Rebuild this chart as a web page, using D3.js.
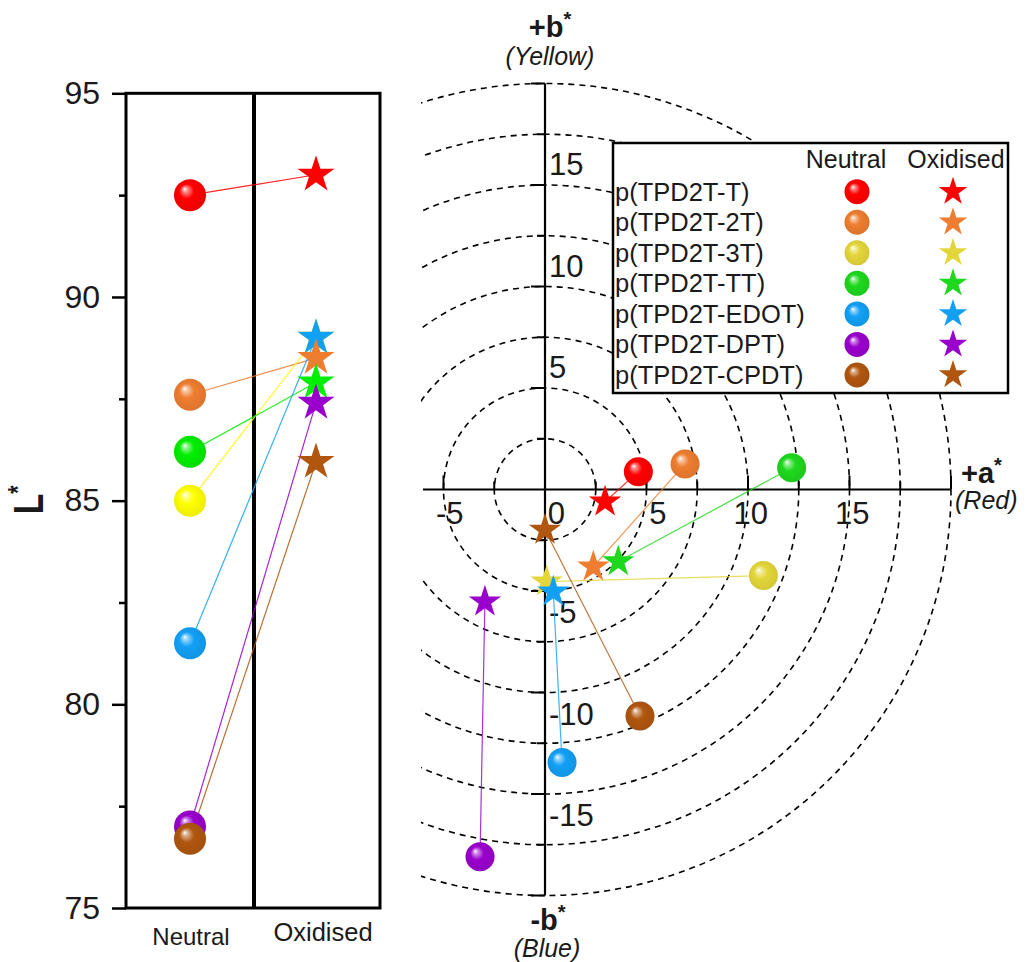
<!DOCTYPE html>
<html>
<head>
<meta charset="utf-8">
<script src="https://cdn.jsdelivr.net/npm/d3@7"></script>
<style>
  body { margin: 0; background: #fff; }
  svg { display: block; font-family: "Liberation Sans", Arial, sans-serif; }
</style>
</head>
<body>
<svg id="chart" width="1026" height="962"></svg>
<script>
// ---------------- data ----------------
const seriesNames = ["p(TPD2T-T)", "p(TPD2T-2T)", "p(TPD2T-3T)", "p(TPD2T-TT)", "p(TPD2T-EDOT)", "p(TPD2T-DPT)", "p(TPD2T-CPDT)"];
const states = ["Neutral", "Oxidised"];

// L* values (left panel)
const neutralL  = [92.5, 87.6, 85.0, 86.2, 81.5, 77.0, 76.7];
const oxidisedL = [93.0, 88.5, 89.0, 87.9, 89.0, 87.4, 85.95];

// a*, b* values (polar panel)
const neutralA  = [4.6, 6.9, 10.76, 12.15, 0.84, -3.2, 4.68];
const neutralB  = [0.88, 1.26, -4.24, 1.07, -13.45, -18.09, -11.16];
const oxidisedA = [2.96, 2.38, 0.08, 3.61, 0.41, -2.96, 0.0];
const oxidisedB = [-0.6, -3.8, -4.54, -3.55, -5.04, -5.53, -2.0];

// ticks
const lTicks = [75, 80, 85, 90, 95];
const lMinorTicks = [77.5, 82.5, 87.5, 92.5];
const aTicks = [-5, 0, 5, 10, 15];
const bTicks = [-15, -10, -5, 5, 10, 15];
const ringRadii = [2.5, 5, 7.5, 10, 12.5, 15, 17.5, 20];

// colours
const leftColors  = ["#FF0000", "#EE7D30", "#FFFF00", "#00EE00", "#12A0F5", "#9900CC", "#B0560F"];
const polarColors = ["#FF0000", "#EE7D30", "#E3D63A", "#1ED81E", "#12A0F5", "#9900CC", "#B0560F"];

// ---------------- setup ----------------
const svg = d3.select("#chart");
svg.append("rect").attr("width", 1026).attr("height", 962).attr("fill", "#fff");
const defs = svg.append("defs");
const textColor = "#1a1a1a";

function makeGrad(id, color) {
  const g = defs.append("radialGradient").attr("id", id)
    .attr("cx", "50%").attr("cy", "50%").attr("r", "55%")
    .attr("fx", "33%").attr("fy", "30%");
  g.append("stop").attr("offset", "0").attr("stop-color", "#ffffff");
  g.append("stop").attr("offset", "0.14").attr("stop-color", d3.interpolateRgb(color, "#fff")(0.55));
  g.append("stop").attr("offset", "0.42").attr("stop-color", color);
  g.append("stop").attr("offset", "1").attr("stop-color", d3.interpolateRgb(color, "#000")(0.08));
}
leftColors.forEach((c, i) => makeGrad("gl" + i, c));
polarColors.forEach((c, i) => makeGrad("gp" + i, c));

const KA = 0.8908130915292852;
const starPath = R => d3.symbol(d3.symbolStar, R * R / KA)();

// ---------------- left panel ----------------
const yL = d3.scaleLinear().domain([75, 95]).range([908, 93.3]);
const xL = d3.scalePoint().domain(states).range([190, 316]);
const left = svg.append("g");

const axisL = d3.axisLeft(yL).tickValues(lTicks).tickSize(14).tickPadding(12).tickFormat(d3.format("d"));
const gAx = left.append("g").attr("transform", "translate(126,0)").call(axisL);
gAx.select(".domain").remove();
gAx.selectAll(".tick line").attr("stroke", "#000").attr("stroke-width", 2.5);
gAx.selectAll(".tick text").attr("font-size", 32).attr("fill", textColor)
  .attr("font-family", "Liberation Sans, Arial, sans-serif");
const gMin = left.append("g").attr("transform", "translate(126,0)")
  .call(d3.axisLeft(yL).tickValues(lMinorTicks).tickSize(7).tickFormat(""));
gMin.select(".domain").remove();
gMin.selectAll(".tick line").attr("stroke", "#000").attr("stroke-width", 2.5);

left.append("rect").attr("x", 126).attr("y", yL(95)).attr("width", 254).attr("height", yL(75) - yL(95))
  .attr("fill", "none").attr("stroke", "#000").attr("stroke-width", 3);
left.append("line").attr("x1", 254).attr("x2", 254).attr("y1", yL(95)).attr("y2", yL(75))
  .attr("stroke", "#000").attr("stroke-width", 4);

left.append("text").attr("x", xL("Neutral") + 1).attr("y", 945).attr("text-anchor", "middle")
  .attr("font-size", 24).attr("fill", textColor).text("Neutral");
left.append("text").attr("x", xL("Oxidised") + 7).attr("y", 941).attr("text-anchor", "middle")
  .attr("font-size", 25.5).attr("fill", textColor).text("Oxidised");

const lt = left.append("text").attr("transform", "translate(43,500) rotate(-90) scale(0.78,1)")
  .attr("text-anchor", "middle").attr("font-size", 43).attr("font-weight", "bold").attr("fill", textColor);
lt.append("tspan").text("L");
lt.append("tspan").attr("font-size", 27).attr("dy", -16).text("*");

seriesNames.forEach((s, i) => {
  left.append("line")
    .attr("x1", xL("Neutral")).attr("y1", yL(neutralL[i]))
    .attr("x2", xL("Oxidised")).attr("y2", yL(oxidisedL[i]))
    .attr("stroke", leftColors[i]).attr("stroke-width", 1.2).attr("opacity", 0.85);
});
seriesNames.forEach((s, i) => {
  left.append("circle").attr("cx", xL("Neutral")).attr("cy", yL(neutralL[i])).attr("r", 16)
    .attr("fill", `url(#gl${i})`);
});
const starOrder = d3.range(seriesNames.length).sort((a, b) => oxidisedL[b] - oxidisedL[a]);
starOrder.forEach(i => {
  left.append("path").attr("d", starPath(19.5))
    .attr("transform", `translate(${xL("Oxidised")},${yL(oxidisedL[i])})`)
    .attr("fill", leftColors[i]);
});

// ---------------- polar panel ----------------
const cx0 = 545, cy0 = 489.5, pxPerUnit = 20.3;
const xA = d3.scaleLinear().domain([0, 20]).range([cx0, cx0 + 20 * pxPerUnit]);
const yB = d3.scaleLinear().domain([0, 20]).range([cy0, cy0 - 20 * pxPerUnit]);
const polar = svg.append("g");

defs.append("clipPath").attr("id", "pclip").append("rect")
  .attr("x", 421).attr("y", 0).attr("width", 605).attr("height", 962);

polar.append("g").attr("clip-path", "url(#pclip)").selectAll("circle").data(ringRadii).join("circle")
  .attr("cx", xA(0)).attr("cy", yB(0)).attr("r", d => xA(d) - xA(0))
  .attr("fill", "none").attr("stroke", "#000").attr("stroke-width", 1.6).attr("stroke-dasharray", "6,5");

polar.append("line").attr("x1", 423).attr("x2", xA(20)).attr("y1", yB(0)).attr("y2", yB(0))
  .attr("stroke", "#000").attr("stroke-width", 2.2);
polar.append("line").attr("x1", xA(0)).attr("x2", xA(0)).attr("y1", yB(20)).attr("y2", yB(-20))
  .attr("stroke", "#000").attr("stroke-width", 2.2);

const aTickAll = d3.range(-5, 20.01, 2.5);
polar.selectAll(".atick").data(aTickAll).join("line")
  .attr("x1", d => xA(d)).attr("x2", d => xA(d))
  .attr("y1", yB(0)).attr("y2", d => yB(0) - (d % 5 === 0 ? 14 : 8))
  .attr("stroke", "#000").attr("stroke-width", 2);
const bTickAll = d3.range(-20, 20.01, 2.5).filter(d => d !== 0);
polar.selectAll(".btick").data(bTickAll).join("line")
  .attr("y1", d => yB(d)).attr("y2", d => yB(d))
  .attr("x1", xA(0)).attr("x2", d => xA(0) - (d % 5 === 0 ? 14 : 8))
  .attr("stroke", "#000").attr("stroke-width", 2);

polar.selectAll(".alab").data(aTicks).join("text")
  .attr("x", d => xA(d) + 20).attr("y", yB(0) + 34).attr("text-anchor", "end")
  .attr("font-size", 31).attr("fill", textColor).text(d => d);
polar.selectAll(".blab").data(bTicks).join("text")
  .attr("x", xA(0) + 4).attr("y", d => yB(d) + (d > 0 ? -21 : 21) + 11).attr("text-anchor", "start")
  .attr("font-size", 31).attr("fill", textColor).text(d => d);

function starLabel(x, y, anchor, main) {
  const t = polar.append("text").attr("x", x).attr("y", y).attr("text-anchor", anchor)
    .attr("font-size", 29).attr("font-weight", "bold").attr("fill", textColor);
  t.append("tspan").text(main);
  t.append("tspan").attr("font-size", 20).attr("dy", -11).text("*");
}
starLabel(550, 37, "middle", "+b");
polar.append("text").attr("x", 550).attr("y", 65).attr("text-anchor", "middle")
  .attr("font-size", 25).attr("font-style", "italic").attr("fill", textColor).text("(Yellow)");
starLabel(548, 930, "middle", "-b");
polar.append("text").attr("x", 547).attr("y", 957).attr("text-anchor", "middle")
  .attr("font-size", 25).attr("font-style", "italic").attr("fill", textColor).text("(Blue)");
starLabel(961, 483, "start", "+a");
polar.append("text").attr("x", 955).attr("y", 509).attr("text-anchor", "start")
  .attr("font-size", 25).attr("font-style", "italic").attr("fill", textColor).text("(Red)");

seriesNames.forEach((s, i) => {
  polar.append("line")
    .attr("x1", xA(neutralA[i])).attr("y1", yB(neutralB[i]))
    .attr("x2", xA(oxidisedA[i])).attr("y2", yB(oxidisedB[i]))
    .attr("stroke", polarColors[i]).attr("stroke-width", 1.2).attr("opacity", 0.8);
});
seriesNames.forEach((s, i) => {
  polar.append("circle").attr("cx", xA(neutralA[i])).attr("cy", yB(neutralB[i])).attr("r", 14.5)
    .attr("fill", `url(#gp${i})`);
});
seriesNames.forEach((s, i) => {
  polar.append("path").attr("d", starPath(17))
    .attr("transform", `translate(${xA(oxidisedA[i])},${yB(oxidisedB[i])})`)
    .attr("fill", polarColors[i]);
});

// ---------------- legend ----------------
const leg = svg.append("g");
leg.append("rect").attr("x", 613).attr("y", 143).attr("width", 395).attr("height", 250)
  .attr("fill", "#fff").attr("stroke", "#000").attr("stroke-width", 2.5);
leg.append("text").attr("x", 846).attr("y", 168).attr("text-anchor", "middle")
  .attr("font-size", 25).attr("fill", textColor).text("Neutral");
leg.append("text").attr("x", 956).attr("y", 168).attr("text-anchor", "middle")
  .attr("font-size", 25).attr("fill", textColor).text("Oxidised");
const rowY = d3.scaleLinear().domain([0, 6]).range([191.7, 375]);
seriesNames.forEach((s, i) => {
  const y = rowY(i);
  leg.append("text").attr("x", 615).attr("y", y + 9).attr("font-size", 25.5).attr("fill", textColor).text(s);
  leg.append("circle").attr("cx", 857).attr("cy", y).attr("r", 12.5).attr("fill", `url(#gp${i})`);
  leg.append("path").attr("d", starPath(15)).attr("transform", `translate(953,${y})`).attr("fill", polarColors[i]);
});
</script>
</body>
</html>
